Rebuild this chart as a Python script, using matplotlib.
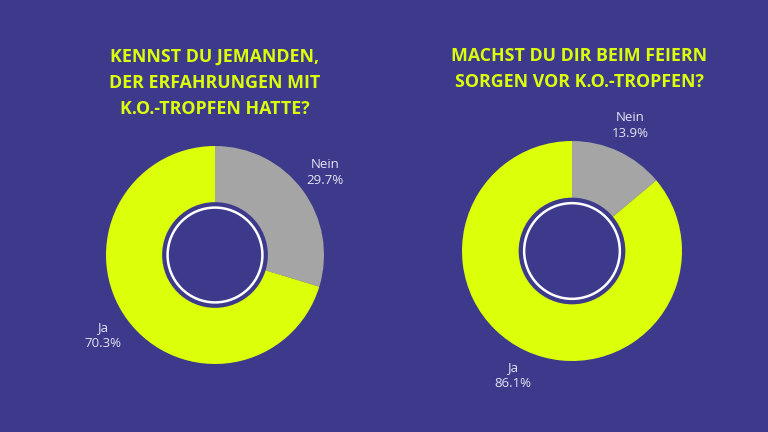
import matplotlib
matplotlib.use("Agg")
import matplotlib.pyplot as plt
from matplotlib.patches import Circle

BG = "#3d3a8c"
YELLOW = "#dcff0a"
GRAY = "#a5a5a5"
LABEL_COLOR = "#e4e4f2"

titles = ["KENNST DU JEMANDEN,\nDER ERFAHRUNGEN MIT\nK.O.-TROPFEN HATTE?",
          "MACHST DU DIR BEIM FEIERN\nSORGEN VOR K.O.-TROPFEN?"]
categories = ["Nein", "Ja"]
values_left = [29.7, 70.3]
values_right = [13.9, 86.1]

fig = plt.figure(figsize=(7.68, 4.32), dpi=100)
fig.patch.set_facecolor(BG)
W, H = 768, 432

def make_ax(cx, cy, r):
    ax = fig.add_axes([(cx - r) / W, (H - cy - r) / H, 2 * r / W, 2 * r / H])
    ax.set_xlim(-1, 1)
    ax.set_ylim(-1, 1)
    ax.set_aspect("equal")
    ax.axis("off")
    return ax

def donut(ax, values, label_pos):
    ax.pie(values, colors=[GRAY, YELLOW], startangle=90, counterclock=False,
           radius=1.0, wedgeprops=dict(linewidth=0))
    ax.add_patch(Circle((0, 0), 0.485, facecolor=BG, edgecolor="none", zorder=3))
    ax.add_patch(Circle((0, 0), 0.435, facecolor="none", edgecolor="white",
                        linewidth=1.8, zorder=4))
    ax.set_xlim(-1, 1)
    ax.set_ylim(-1, 1)
    for cat, v, (x, y) in zip(categories, values, label_pos):
        ax.text(x, y, f"{cat}\n{v:.1f}%", ha="center", va="center",
                color=LABEL_COLOR, fontsize=9.5, family="Open Sans",
                linespacing=1.3, clip_on=False)

ax1 = make_ax(215, 255, 109)
donut(ax1, values_left, [(1.01, 0.76), (-1.03, -0.74)])
ax2 = make_ax(572, 251, 110)
donut(ax2, values_right, [(0.53, 1.14), (-0.54, -1.13)])

fig.text(215 / W, 1 - 83 / H, titles[0], ha="center", va="center",
         color=YELLOW, fontsize=12.8, fontweight="bold", family="Open Sans",
         linespacing=1.6)
fig.text(579 / W, 1 - 69 / H, titles[1], ha="center", va="center",
         color=YELLOW, fontsize=12.8, fontweight="bold", family="Open Sans",
         linespacing=1.6)

fig.savefig("out.png", dpi=100, facecolor=BG)
